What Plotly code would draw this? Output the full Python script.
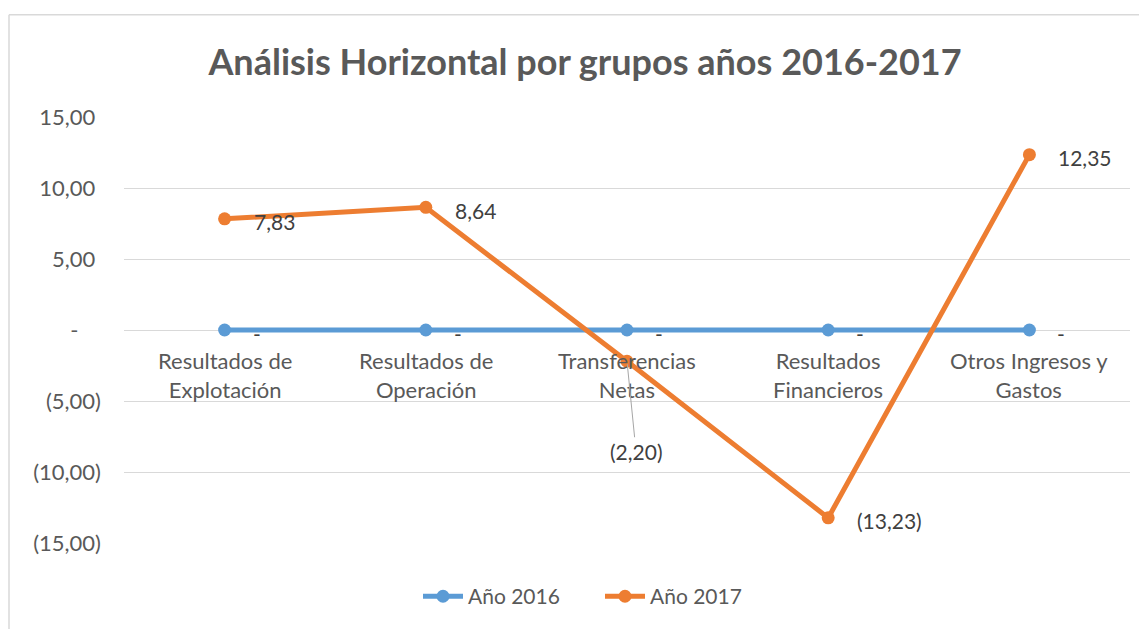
import plotly.graph_objects as go

categories = ["Resultados de<br>Explotación", "Resultados de<br>Operación", "Transferencias<br>Netas",
              "Resultados<br>Financieros", "Otros Ingresos y<br>Gastos"]
values_2016 = [0, 0, 0, 0, 0]
values_2017 = [7.83, 8.64, -2.20, -13.23, 12.35]
tick_vals = [15, 10, 5, 0, -5, -10, -15]
tick_text = ["15,00\u00a0", "10,00\u00a0", "5,00\u00a0", "-\u00a0\u00a0\u00a0\u00a0", "(5,00)", "(10,00)", "(15,00)"]

FONT = "Lato"
BLUE = "#5B9BD5"
ORANGE = "#ED7D31"
GRAY = "#595959"
DARK = "#404040"

# page body has an 8px margin; figure is sized to fill the rest
OFF = 8
W, H = 1147 - OFF, 629 - OFF
ML, MR, MT, MB = 124 - OFF, 17, 117 - OFF, 83
PH = H - MT - MB
PW = W - ML - MR


def fmt(v):
    if abs(v) < 1e-9:
        return "-"
    s = f"{abs(v):.2f}".replace(".", ",")
    return f"({s})" if v < 0 else s


xs = list(range(len(categories)))
fig = go.Figure()
fig.add_trace(go.Scatter(x=xs, y=values_2016, mode="lines+markers", name="Año 2016",
                         line=dict(color=BLUE, width=5), marker=dict(size=13, color=BLUE)))
fig.add_trace(go.Scatter(x=xs, y=values_2017, mode="lines+markers", name="Año 2017",
                         line=dict(color=ORANGE, width=5), marker=dict(size=13, color=ORANGE)))

ann = []
for i, c in enumerate(categories):
    ann.append(dict(x=i, y=0, text=c, showarrow=False, yanchor="top", xanchor="center",
                    yshift=-15, font=dict(family=FONT, size=22, color=GRAY)))
for i, v in enumerate(values_2016):
    ann.append(dict(x=i, y=v, text=fmt(v), showarrow=False, xanchor="left", yanchor="middle",
                    xshift=26, yshift=-3, font=dict(family=FONT, size=21, color=DARK)))
for i, v in enumerate(values_2017):
    if i == 2:
        ann.append(dict(x=i, y=v, text=fmt(v), showarrow=True, arrowhead=0, arrowwidth=1,
                        arrowcolor="#A6A6A6", ax=9, ay=90, standoff=3,
                        font=dict(family=FONT, size=21, color=DARK)))
    else:
        ann.append(dict(x=i, y=v, text=fmt(v), showarrow=False, xanchor="left", yanchor="middle",
                        xshift=27, yshift=-3, font=dict(family=FONT, size=21, color=DARK)))

top_border = (PH + MT - (14 - OFF)) / PH
left_border = -(ML - (9 - OFF)) / PW

fig.update_layout(
    width=W, height=H,
    margin=dict(l=ML, r=MR, t=MT, b=MB),
    paper_bgcolor="white", plot_bgcolor="white",
    title=dict(text="<b>Análisis Horizontal por grupos años 2016-2017</b>",
               x=(585 - OFF) / W, xanchor="center", y=1 - (62 - OFF) / H, yanchor="middle",
               yref="container", font=dict(family=FONT, size=36, color=GRAY)),
    xaxis=dict(range=[-0.5, 4.5], showgrid=False, zeroline=False, showticklabels=False,
               showline=False, fixedrange=True),
    yaxis=dict(range=[-15, 15], tickvals=tick_vals, ticktext=tick_text, showgrid=True,
               gridcolor="#D9D9D9", gridwidth=1, zeroline=True, zerolinecolor="#D9D9D9",
               zerolinewidth=1, showline=False, ticks="", ticklabelstandoff=22,
               tickfont=dict(family=FONT, size=22, color=GRAY)),
    legend=dict(orientation="h", x=(426 - 124 - OFF) / PW, xanchor="left",
                y=-(600 - 546) / PH, yanchor="middle",
                font=dict(family=FONT, size=21, color=GRAY), itemwidth=40,
                entrywidth=127, entrywidthmode="pixels"),
    annotations=ann,
    shapes=[
        dict(type="line", xref="paper", yref="paper", x0=left_border, x1=1.1, y0=top_border,
             y1=top_border, line=dict(color="#D9D9D9", width=1.5)),
        dict(type="line", xref="paper", yref="paper", x0=left_border, x1=left_border, y0=-0.3,
             y1=top_border, line=dict(color="#D9D9D9", width=1.5)),
    ],
    showlegend=True,
)

fig.write_html("out.html")
